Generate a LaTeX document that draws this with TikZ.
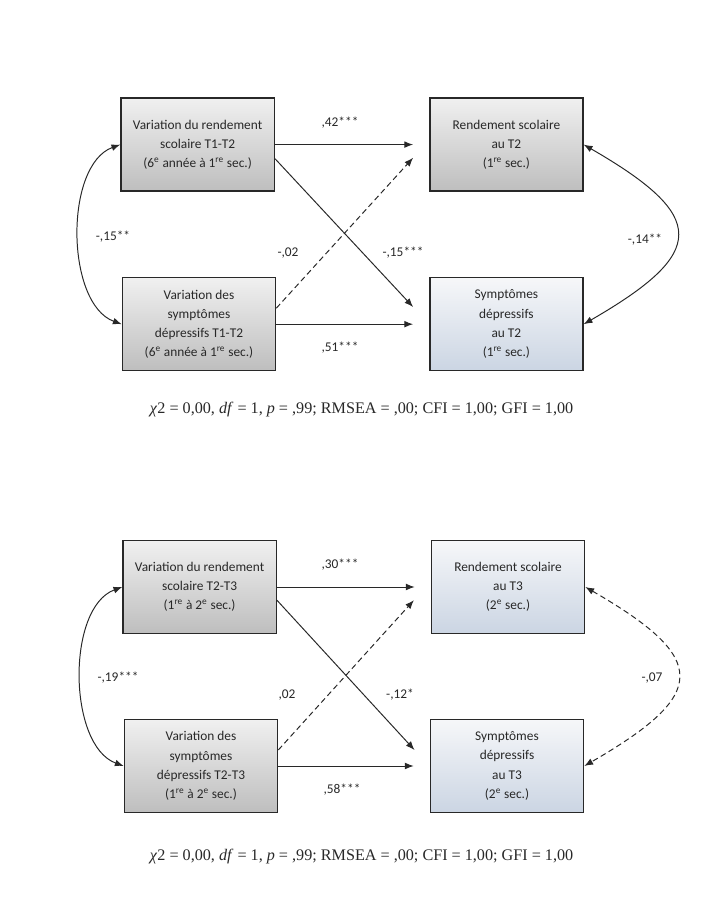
\documentclass[tikz,border=0pt]{standalone}
\usepackage{fontspec}
\setmainfont{Carlito}
\newfontfamily\timesfont{Liberation Serif}
\usepackage{tikz}
\usetikzlibrary{arrows.meta, positioning, calc}
\definecolor{mydark}{RGB}{40,40,40}
\definecolor{grytop}{RGB}{240,240,240}
\definecolor{grybot}{RGB}{190,190,190}
\definecolor{blutop}{RGB}{246,247,249}
\definecolor{blubot}{RGB}{203,213,227}
\tikzset{
  graybox/.style={rectangle, draw=mydark, top color=grytop, bottom color=grybot,
    minimum width=3.83cm, minimum height=2.32cm, align=center,
    font=\fontsize{9.5}{13.7}\selectfont, text=mydark, line width=1pt},
  bluebox/.style={graybox, top color=blutop, bottom color=blubot},
  arrow/.style={-{Latex[length=2.2mm,width=1.7mm]}, line width=0.7pt, color=mydark},
  dasharrow/.style={arrow, dash pattern=on 4pt off 2.5pt},
  biarrow/.style={{Latex[length=2.2mm,width=1.7mm]}-{Latex[length=2.2mm,width=1.7mm]}, line width=0.7pt, color=mydark},
  dashbiarrow/.style={biarrow, dash pattern=on 4pt off 2.5pt}
}

\begin{document}
\begin{tikzpicture}[
  coef/.style={font=\fontsize{9.5}{11}\selectfont, text=mydark},
  fit/.style={font=\timesfont\fontsize{11.5}{14}\selectfont, text=mydark}
]
\useasboundingbox (0,0) rectangle (18.15,22.975);

% Modele T1-T2
\node[graybox] (varR1) at (4.94, 19.36) {Variation du rendement\\scolaire T1-T2\\(6\textsuperscript{e} année à 1\textsuperscript{re} sec.)};
\node[graybox] (varD1) at (4.975, 14.87) {Variation des\\symptômes\\dépressifs T1-T2\\(6\textsuperscript{e} année à 1\textsuperscript{re} sec.)};
\node[graybox] (rend2) at (12.66, 19.36) {Rendement scolaire\\au T2\\(1\textsuperscript{re} sec.)};
\node[bluebox] (symp2) at (12.66, 14.87) {Symptômes\\dépressifs\\au T2\\(1\textsuperscript{re} sec.)};
\draw[arrow, shorten >=0.4cm] (varR1.east) -- (rend2.west);
\draw[arrow, shorten >=0.4cm] (varD1.east) -- (symp2.west);
\draw[arrow] ([yshift=-0.35cm]varR1.east) -- ([xshift=-0.4cm,yshift=0.43cm]symp2.west);
\draw[dasharrow] ([yshift=0.4cm]varD1.east) -- ([xshift=-0.4cm,yshift=-0.33cm]rend2.west);
\draw[biarrow] (varR1.west) to[out=200, in=160, looseness=0.85] (varD1.west);
\draw[biarrow] (rend2.east) to[out=-30, in=30, looseness=2.05] (symp2.east);
\node[coef] (c42) at (8.5, 19.9) {,42***};
\node[coef] (c15a) at (2.825, 17.05) {-,15**};
\node[coef] (c02a) at (7.2, 16.65) {-,02};
\node[coef] (c15b) at (10.075, 16.65) {-,15***};
\node[coef] (c51) at (8.5, 14.275) {,51***};
\node[coef] (c14) at (16.125, 16.975) {-,14**};
\node[fit] (fit1) at (9.04, 12.725) {\textit{χ}2 = 0,00, \textit{df} = 1, \textit{p} = ,99; RMSEA = ,00; CFI = 1,00; GFI = 1,00};

% Modele T2-T3
\node[graybox] (varR2) at (4.99, 8.3) {Variation du rendement\\scolaire T2-T3\\(1\textsuperscript{re} à 2\textsuperscript{e} sec.)};
\node[graybox] (varD2) at (5.025, 3.825) {Variation des\\symptômes\\dépressifs T2-T3\\(1\textsuperscript{re} à 2\textsuperscript{e} sec.)};
\node[bluebox] (rend3) at (12.7, 8.3) {Rendement scolaire\\au T3\\(2\textsuperscript{e} sec.)};
\node[bluebox] (symp3) at (12.675, 3.825) {Symptômes\\dépressifs\\au T3\\(2\textsuperscript{e} sec.)};
\draw[arrow, shorten >=0.4cm] (varR2.east) -- (rend3.west);
\draw[arrow, shorten >=0.4cm] (varD2.east) -- (symp3.west);
\draw[arrow] ([yshift=-0.33cm]varR2.east) -- ([xshift=-0.38cm,yshift=0.4cm]symp3.west);
\draw[dasharrow] ([yshift=0.4cm]varD2.east) -- ([xshift=-0.42cm,yshift=-0.33cm]rend3.west);
\draw[biarrow] (varR2.west) to[out=200, in=160, looseness=0.85] (varD2.west);
\draw[dashbiarrow] (rend3.east) to[out=-30, in=30, looseness=2.05] (symp3.east);
\node[coef] (c30) at (8.5, 8.85) {,30***};
\node[coef] (c19) at (2.95, 6.025) {-,19***};
\node[coef] (c02b) at (7.175, 5.6) {,02};
\node[coef] (c12) at (10.0, 5.6) {-,12*};
\node[coef] (c58) at (8.55, 3.225) {,58***};
\node[coef] (c07) at (16.3, 6.025) {-,07};
\node[fit] (fit2) at (9.04, 1.55) {\textit{χ}2 = 0,00, \textit{df} = 1, \textit{p} = ,99; RMSEA = ,00; CFI = 1,00; GFI = 1,00};
\end{tikzpicture}
\end{document}
